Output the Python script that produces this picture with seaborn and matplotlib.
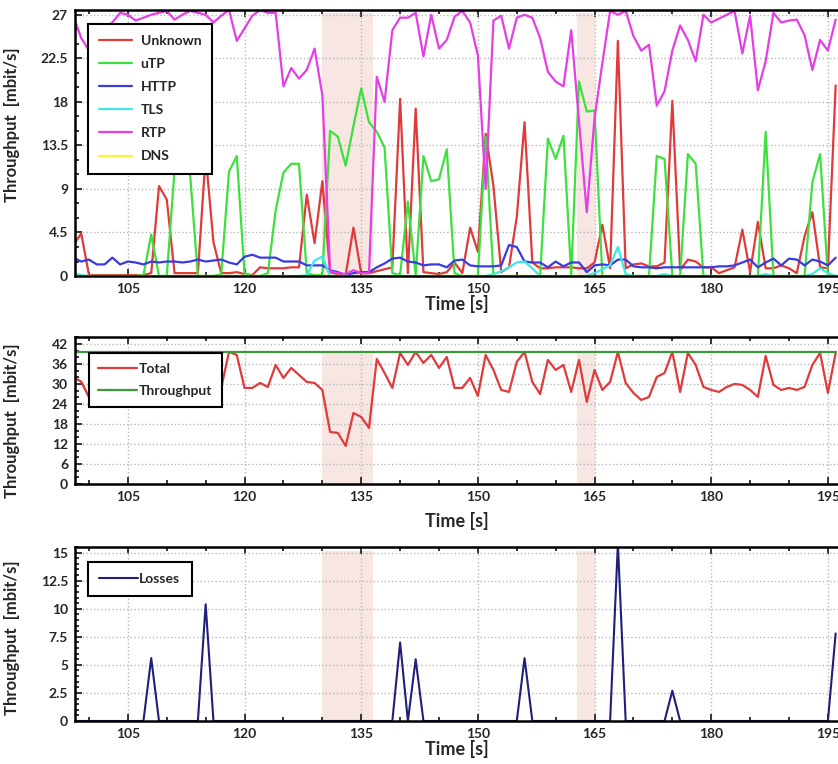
import numpy as np
import pandas as pd
import matplotlib.pyplot as plt
from matplotlib.ticker import MultipleLocator
import seaborn as sns

# sample times [s]
time_s = np.arange(98, 197)

# top panel: per-protocol throughput [mbit/s]
unknown = [3.2, 4.4, 0.1, 0.1, 0.1, 0.1, 0.1, 0.1, 0.1, 0.1,
           0.3, 9.3, 7.9, 0.3, 0.3, 0.3, 0.3, 12.5, 3.5, 0.3,
           0.3, 0.4, 0.2, 0.1, 0.9, 0.8, 0.8, 0.8, 0.9, 0.9,
           8.4, 3.4, 9.8, 0.4, 0.2, 0.1, 5.0, 0.3, 0.3, 0.5,
           0.7, 0.9, 18.3, 0.3, 17.3, 0.4, 0.3, 0.2, 0.4, 1.4,
           0.3, 5.0, 2.5, 14.7, 9.3, 0.4, 0.9, 6.1, 15.9, 1.4,
           0.8, 0.8, 0.9, 0.9, 0.9, 0.8, 0.8, 1.4, 5.3, 0.8,
           24.3, 0.8, 1.2, 1.3, 1.0, 1.0, 1.4, 18.1, 0.6, 1.7,
           1.5, 0.9, 0.9, 0.3, 0.6, 0.9, 4.8, 0.4, 5.6, 0.8,
           0.8, 1.1, 0.8, 0.3, 4.1, 6.6, 0.9, 0.8, 19.7]
utp = [0, 0, 0, 0, 0, 0, 0, 0, 0, 0.1,
       4.3, 0, 0, 11.0, 13.0, 10.5, 0, 0, 0, 0.2,
       10.8, 12.4, 0.2, 0, 0, 0.3, 6.8, 10.7, 11.6, 11.6,
       0.3, 0.1, 0.1, 15.0, 14.4, 11.4, 15.5, 19.4, 15.9, 14.9,
       13.3, 0.3, 0.1, 7.7, 0.1, 12.4, 9.8, 10.0, 13.1, 0.3,
       0, 0, 0, 14.4, 0, 0, 0, 0, 0, 0,
       0, 14.2, 12.1, 14.5, 0.1, 20.1, 17.0, 17.1, 0, 0,
       0, 0, 0, 0, 0, 12.4, 12.1, 0, 0, 12.6,
       11.6, 0, 0, 0, 0, 0, 0, 0, 0, 14.9,
       0, 0, 0, 0, 0, 9.7, 12.6, 0, 0]
http = [1.9, 1.5, 1.7, 1.2, 1.2, 1.9, 1.2, 1.5, 1.4, 1.2,
        1.5, 1.4, 1.5, 1.5, 1.4, 1.5, 1.7, 1.5, 1.6, 1.7,
        1.4, 1.2, 2.0, 2.2, 1.9, 1.9, 1.9, 1.5, 1.5, 1.5,
        1.1, 1.1, 1.1, 0.6, 0.4, 0.1, 0.3, 0.4, 0.4, 0.9,
        1.3, 1.8, 1.9, 1.5, 1.4, 1.1, 1.2, 1.2, 0.9, 1.6,
        1.7, 1.1, 1.0, 1.0, 1.0, 1.1, 3.2, 3.0, 1.5, 1.4,
        1.4, 0.9, 1.5, 1.0, 1.4, 1.4, 0.4, 1.1, 1.2, 1.1,
        1.7, 1.7, 1.0, 0.9, 0.9, 0.8, 0.9, 0.9, 0.9, 0.9,
        0.9, 0.9, 0.9, 1.0, 1.0, 1.1, 1.4, 1.7, 0.9, 1.4,
        1.8, 1.1, 1.8, 1.7, 1.1, 1.7, 1.5, 1.1, 1.9]
tls = [0.3, 0.1, 0, 0, 0, 0, 0, 0, 0, 0,
       0, 0, 0, 0, 0, 0, 0, 0, 0, 0,
       0, 0, 0, 0, 0, 0, 0, 0, 0, 0,
       0.1, 1.6, 2.0, 0, 0, 0, 0, 0, 0, 0,
       0, 0, 0, 0, 0, 0, 0, 0, 0, 0,
       0, 0, 0, 0, 0.2, 0.5, 0.9, 1.4, 1.5, 0.8,
       0, 0, 0, 0, 0, 0, 0, 0.3, 0.7, 1.1,
       3.0, 0.2, 0, 0, 0, 0, 0.2, 0, 0, 0,
       0, 0, 0, 0, 0, 0, 0, 0, 0, 0.2,
       0, 0, 0, 0, 0, 0.2, 0.8, 0.3, 0]
rtp = [26.8, 24.6, 23.3, 24.8, 25.6, 26.2, 27.2, 27.0, 26.4, 26.7,
       27.0, 27.2, 27.4, 26.5, 27.0, 27.4, 27.2, 27.0, 26.2, 26.9,
       27.5, 24.3, 25.6, 26.9, 27.5, 27.2, 27.2, 19.6, 21.5, 20.4,
       21.3, 23.5, 18.7, 0.5, 0.3, 0.2, 0.6, 0.3, 0.3, 20.6,
       18.0, 25.4, 26.7, 26.7, 27.2, 22.7, 27.0, 23.5, 24.4, 26.8,
       27.4, 26.2, 22.8, 9.0, 26.4, 26.9, 23.5, 26.7, 27.0, 26.7,
       24.6, 21.1, 20.1, 19.6, 25.4, 16.0, 6.6, 16.3, 22.0, 27.4,
       27.0, 27.4, 24.8, 23.3, 23.9, 17.6, 19.1, 23.3, 25.9, 24.4,
       22.2, 27.0, 26.2, 26.6, 27.0, 27.4, 23.0, 26.9, 19.2, 22.2,
       27.2, 26.2, 26.4, 26.5, 24.9, 21.3, 24.4, 23.3, 26.5]
dns = [0] * 99

# middle panel: total vs link throughput [mbit/s]
total = [32.0, 30.7, 26.0, 26.5, 27.0, 28.0, 28.5, 28.5, 28.0, 28.0,
         33.0, 38.0, 36.5, 39.0, 39.5, 39.0, 29.0, 39.5, 31.0, 28.8,
         39.6, 38.7, 28.8, 28.8, 30.3, 29.1, 35.7, 31.8, 34.8, 32.7,
         30.6, 30.3, 28.2, 15.6, 15.3, 11.4, 21.3, 20.1, 16.8, 37.5,
         33.3, 28.8, 39.3, 35.7, 39.6, 36.3, 38.7, 34.8, 38.1, 28.8,
         28.8, 31.8, 26.4, 38.7, 34.2, 28.2, 27.6, 36.6, 39.6, 30.6,
         27.0, 37.2, 34.2, 35.7, 27.6, 37.2, 24.6, 34.2, 28.2, 30.6,
         39.6, 30.3, 27.3, 25.2, 26.1, 32.1, 33.3, 39.6, 27.6, 39.3,
         35.7, 29.1, 28.2, 27.6, 29.1, 30.0, 29.7, 28.2, 26.1, 38.4,
         29.7, 28.2, 28.8, 28.2, 29.1, 35.7, 39.3, 27.3, 39.3]
link_throughput = 39.6

# bottom panel: losses [mbit/s]
losses = [0, 0, 0, 0, 0, 0, 0, 0, 0, 0,
          5.6, 0, 0, 0, 0, 0, 0, 10.4, 0, 0,
          0, 0, 0, 0, 0, 0, 0, 0, 0, 0,
          0, 0, 0, 0, 0, 0, 0, 0, 0, 0,
          0, 0, 7.0, 0, 5.5, 0, 0, 0, 0, 0,
          0, 0, 0, 0, 0, 0, 0, 0, 5.6, 0,
          0, 0, 0, 0, 0, 0, 0, 0, 0, 0,
          15.8, 0, 0, 0, 0, 0, 0, 2.7, 0, 0,
          0, 0, 0, 0, 0, 0, 0, 0, 0, 0,
          0, 0, 0, 0, 0, 0, 0, 0, 7.8]

# shaded intervals [s]
shaded = [(130.0, 136.5), (162.7, 165.1)]

top_names = ['Unknown', 'uTP', 'HTTP', 'TLS', 'RTP', 'DNS']
top_colors = ['#e03a3a', '#3ee03e', '#3a3ae0', '#3ee8e8', '#e43ee4', '#f5f53a']

sns.set_style('ticks')
plt.rcParams['font.family'] = ['Lato', 'DejaVu Sans']
plt.rcParams['font.weight'] = 'bold'
plt.rcParams['axes.labelweight'] = 'bold'

fig = plt.figure(figsize=(8.38, 7.64), dpi=100)
ax1 = fig.add_axes([0.0895, 0.6387, 0.9105, 0.3483])
ax2 = fig.add_axes([0.0895, 0.3665, 0.9105, 0.1925])
ax3 = fig.add_axes([0.0895, 0.0563, 0.9105, 0.2277])

XLIM = (98.2, 196.3)


def style_axis(ax, ymax, ystep, yminor, shade_top):
    for a, b in shaded:
        ax.axvspan(a, b, ymin=0, ymax=shade_top, color='#f6e2dc', alpha=0.85,
                   lw=0, zorder=0)
    ax.set_xlim(*XLIM)
    ax.set_ylim(0, ymax)
    ax.xaxis.set_major_locator(MultipleLocator(15))
    ax.xaxis.set_minor_locator(MultipleLocator(5))
    ax.yaxis.set_major_locator(MultipleLocator(ystep))
    ax.yaxis.set_minor_locator(MultipleLocator(yminor))
    ax.grid(True, which='major', linestyle=':', color='#b8b8b8', lw=1.0)
    ax.tick_params(which='both', direction='in', top=True, right=False,
                   width=1.3, labelsize=10, pad=5)
    ax.tick_params(which='major', length=5)
    ax.tick_params(which='minor', length=3)
    for side in ['left', 'top', 'bottom']:
        ax.spines[side].set_linewidth(1.8)
        ax.spines[side].set_color('black')
    ax.spines['right'].set_visible(False)
    ax.set_xlabel('Time [s]', fontsize=13, fontweight='bold')
    ax.set_ylabel('Throughput  [mbit/s]', fontsize=12, fontweight='bold')
    for lab in ax.get_xticklabels() + ax.get_yticklabels():
        lab.set_fontweight('bold')


def fmt_tick(v, pos):
    return f'{v:g}'


# top panel
top_df = pd.DataFrame({'time': np.tile(time_s, 6),
                       'value': unknown + utp + http + tls + rtp + dns,
                       'series': np.repeat(top_names, len(time_s))})
for name, col in zip(top_names, top_colors):
    sns.lineplot(data=top_df[top_df['series'] == name], x='time', y='value',
                 color=col, lw=1.6, label=name, ax=ax1)
style_axis(ax1, 27.5, 4.5, 1.5, 0.99)
ax1.yaxis.set_major_formatter(fmt_tick)
leg1 = ax1.legend(loc='upper left', bbox_to_anchor=(0.017, 0.948),
                  borderaxespad=0, fancybox=False, framealpha=1,
                  edgecolor='black', handlelength=2.4, handletextpad=0.6,
                  labelspacing=0.8, borderpad=0.8,
                  prop={'weight': 'bold', 'size': 10})
leg1.get_frame().set_linewidth(1.5)
ax1.yaxis.set_label_coords(-0.072, 0.57)
ax1.xaxis.set_label_coords(0.5, -0.072)

# middle panel
mid_df = pd.DataFrame({'time': time_s, 'Total': total,
                       'Throughput': np.full(len(time_s), link_throughput)})
sns.lineplot(data=mid_df, x='time', y='Total', color='#e03a3a', lw=1.6,
             label='Total', ax=ax2)
sns.lineplot(data=mid_df, x='time', y='Throughput', color='#3a9a3a', lw=1.6,
             label='Throughput', ax=ax2)
style_axis(ax2, 44.1, 6, 2, 0.89)
leg2 = ax2.legend(loc='upper left', bbox_to_anchor=(0.018, 0.89),
                  borderaxespad=0, fancybox=False, framealpha=1,
                  edgecolor='black', handlelength=2.8, handletextpad=0.1,
                  labelspacing=0.75, borderpad=0.7,
                  prop={'weight': 'bold', 'size': 10})
leg2.get_frame().set_linewidth(1.5)
ax2.yaxis.set_label_coords(-0.072, 0.43)
ax2.xaxis.set_label_coords(0.5, -0.19)

# bottom panel
low_df = pd.DataFrame({'time': time_s, 'Losses': losses})
sns.lineplot(data=low_df, x='time', y='Losses', color='#1f1f7a', lw=1.5,
             label='Losses', ax=ax3)
style_axis(ax3, 15.5, 2.5, 0.5, 0.98)
ax3.yaxis.set_major_formatter(fmt_tick)
leg3 = ax3.legend(loc='upper left', bbox_to_anchor=(0.017, 0.915),
                  borderaxespad=0, fancybox=False, framealpha=1,
                  edgecolor='black', handlelength=2.8, handletextpad=0.1,
                  borderpad=0.8, prop={'weight': 'bold', 'size': 10})
leg3.get_frame().set_linewidth(1.5)
ax3.yaxis.set_label_coords(-0.072, 0.48)
ax3.xaxis.set_label_coords(0.5, -0.11)

fig.savefig('out.png', dpi=100)
